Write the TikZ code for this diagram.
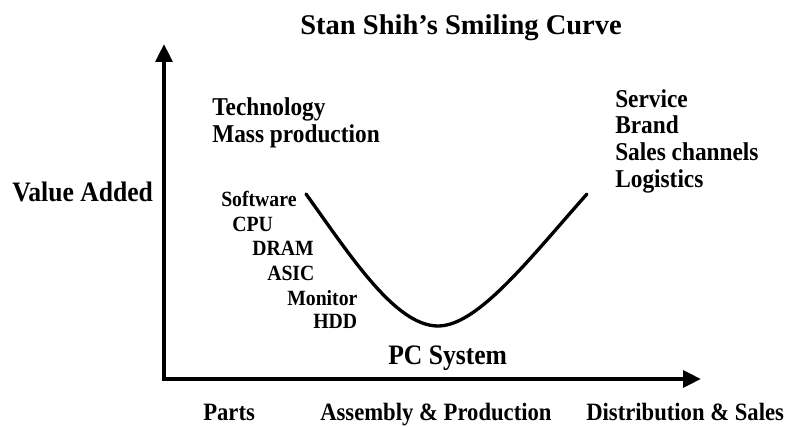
\documentclass[tikz,border=0pt]{standalone}
\usepackage{fontspec}
\setmainfont{Liberation Serif}
\usetikzlibrary{arrows.meta, positioning}

\begin{document}
\begin{tikzpicture}[
    x=0.75pt, y=-0.75pt,
    axis/.style={-{Triangle[length=13.5pt, width=12.5pt]}, line width=3pt},
    smile/.style={line width=2.5pt, line cap=round},
    label/.style={anchor=base west, inner sep=0pt, yscale=1.1, transform shape,
                  font=\bfseries\fontsize{17.5}{21}\selectfont},
    heading/.style={label, yscale=1/1.1, font=\bfseries\fontsize{21.4}{25}\selectfont},
    axislabel/.style={label, font=\bfseries\fontsize{19.2}{23}\selectfont},
    component/.style={label, font=\bfseries\fontsize{14.8}{18}\selectfont},
    stage/.style={label, font=\bfseries\fontsize{17}{20}\selectfont}
]
    \useasboundingbox (0,0) rectangle (793,427);

    % Title
    \node[heading] (title) at (300,35) {Stan Shih’s Smiling Curve};

    % Axes
    \coordinate (origin) at (164,379);
    \coordinate (ytop) at (164,44);
    \coordinate (xend) at (701,379);
    \draw[axis] (origin) -- (ytop);
    \draw[axis] ([xshift=-1.5pt]origin) -- (xend);
    \node[axislabel] (value) at (12,202) {Value Added};

    % The curve
    \coordinate (left) at (306,194);
    \coordinate (low) at (438,326);
    \coordinate (right) at (587,194);
    \draw[smile] (left) .. controls (350,255) and (395,326) .. (low)
                        .. controls (478,326) and (530,258) .. (right);

    % Upstream side
    \node[label] (tech) at (212,116) {Technology};
    \node[label] (mass) at (212,143) {Mass production};
    \node[component] (sw) at (221,207) {Software};
    \node[component] (cpu) at (232,232) {CPU};
    \node[component] (dram) at (252,256) {DRAM};
    \node[component] (asic) at (267,281) {ASIC};
    \node[component] (mon) at (287,306) {Monitor};
    \node[component] (hdd) at (313,329) {HDD};

    % Bottom of the curve
    \node[axislabel] (pc) at (388,365) {PC System};

    % Downstream side
    \node[label] (service) at (615,108) {Service};
    \node[label] (brand) at (615,134) {Brand};
    \node[label] (sales) at (615,161) {Sales channels};
    \node[label] (logis) at (615,188) {Logistics};

    % Stages along the x axis
    \node[stage] (parts) at (203,421) {Parts};
    \node[stage] (assembly) at (320,421) {Assembly \& Production};
    \node[stage] (distrib) at (586,421) {Distribution \& Sales};

\end{tikzpicture}
\end{document}
